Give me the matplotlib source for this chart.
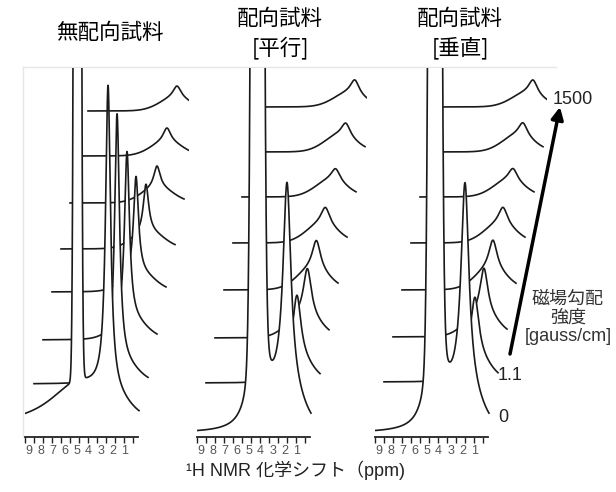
import numpy as np
import matplotlib.pyplot as plt

plt.rcParams['font.family'] = ['Liberation Sans', 'Noto Sans CJK JP']

titles = [['無配向試料'], ['配向試料', '[平行]'], ['配向試料', '[垂直]']]
ppm_labels = [9, 8, 7, 6, 5, 4, 3, 2, 1]
gradient_labels = ['0', '1.1', '1500']
axis_title = '¹H NMR 化学シフト（ppm)'
gradient_title = '磁場勾配\n強度\n[gauss/cm]'

# baseline of each trace (px above the axis line), gradient 0 -> 1500
base_nonori = [10, 53, 97, 145, 188, 234, 281, 326]
base_para = [4, 54, 99, 147, 194, 240, 285, 330]
base_perp = [4, 55, 100, 147, 194, 240, 285, 330]

# main resonance of each trace: position (ppm), height, half width (ppm)
peak_ppm_nonori = [2.38, 2.38, 2.30, 2.30, 2.22, 2.05, 1.97, 1.88]
peak_h_nonori = [305, 253, 171, 99, 49, 22, 14, 12]
peak_w_nonori = [0.25, 0.25, 0.25, 0.25, 0.27, 0.32, 0.38, 0.4]

peak_ppm_para = [1.80, 1.72, 1.60, 1.60, 1.60, 1.50, 1.40, 1.40]
peak_h_para = [208, 63, 48, 30, 18, 13, 14, 15]
peak_w_para = [0.4, 0.4, 0.4, 0.42, 0.45, 0.45, 0.45, 0.45]

peak_ppm_perp = [1.80, 1.72, 1.72, 1.72, 1.63, 1.55, 1.47, 1.38]
peak_h_perp = [208, 60, 47, 30, 18, 13, 14, 15]
peak_w_perp = [0.4, 0.4, 0.4, 0.42, 0.45, 0.45, 0.45, 0.45]

# broad background under the main resonance
hump_nonori = [13, 18, 18, 17, 16, 15, 14, 13]
hump_para = [35, 25, 22, 20, 18, 16, 16, 13]
hump_perp = [35, 25, 22, 20, 18, 16, 16, 13]
hump_ppm = [2.0, 1.9, 1.9]

# water line at gradient 0: centre, core width, wing height, wing width
water_nonori = [4.93, 0.165, 43, 2.9]
water_para = [4.26, 0.273, 300, 0.4]
water_perp = [4.30, 0.273, 300, 0.4]

panels = [
    dict(base=base_nonori, pc=peak_ppm_nonori, ph=peak_h_nonori, pw=peak_w_nonori,
         hump=hump_nonori, hc=hump_ppm[0], water=water_nonori, left=25, width=164),
    dict(base=base_para, pc=peak_ppm_para, ph=peak_h_para, pw=peak_w_para,
         hump=hump_para, hc=hump_ppm[1], water=water_para, left=197, width=170),
    dict(base=base_perp, pc=peak_ppm_perp, ph=peak_h_perp, pw=peak_w_perp,
         hump=hump_perp, hc=hump_ppm[2], water=water_perp, left=375, width=172),
]

W, H = 616, 492
px_per_ppm = 12
shift = 0.75          # horizontal step between traces (ppm)
top, axis_y = 68, 437


def lorentz(x, c, h, w):
    return h * w**2 / (w**2 + (x - c)**2)


def gauss(x, c, h, s):
    return h * np.exp(-(x - c)**2 / (2 * s**2))


fig = plt.figure(figsize=(W / 100, H / 100), dpi=100)

# faint frame
frame = fig.add_axes([0, 0, 1, 1])
frame.set_xlim(0, W)
frame.set_ylim(H, 0)
frame.axis('off')
frame.plot([23, 556], [67, 67], color='#e6e6e6', lw=1)
frame.plot([23, 23], [67, 436], color='#e6e6e6', lw=1)

x = np.linspace(9.3, -0.2, 2500)
for p in panels:
    ax = fig.add_axes([p['left'] / W, 1 - axis_y / H, p['width'] / W, (axis_y - top) / H])
    ax.set_xlim(9.3, 9.3 - p['width'] / px_per_ppm)
    ax.set_ylim(0, axis_y - top)
    for k in reversed(range(8)):
        y = p['base'][k] + lorentz(x, p['pc'][k], p['ph'][k], p['pw'][k]) \
            + gauss(x, p['hc'], p['hump'][k], 1.3)
        if k == 0:
            wc, ws, wh, ww = p['water']
            y = y + gauss(x, wc, 4000, ws) + lorentz(x, wc, wh, ww)
        xs = x - k * shift
        ax.fill_between(xs, y, 0, color='white', lw=0, zorder=10 + 2 * (7 - k))
        ax.plot(xs, y, color='#1a1a1a', lw=1.2, zorder=11 + 2 * (7 - k))
    for s in ['top', 'left', 'right']:
        ax.spines[s].set_visible(False)
    ax.spines['bottom'].set_bounds(9.3, -0.1)
    ax.spines['bottom'].set_linewidth(1.3)
    ax.spines['bottom'].set_color('#222222')
    ax.spines['bottom'].set_zorder(50)
    ax.set_yticks([])
    ax.set_xticks(ppm_labels)
    ax.set_xticks(np.arange(9.3, 0, -0.75), minor=True)
    ax.tick_params(axis='x', which='major', length=0, labelsize=9,
                   labelcolor='#555555', pad=6)
    ax.tick_params(axis='x', which='minor', direction='out', length=4, width=1,
                   color='#222222')
    ax.patch.set_alpha(0)

# overlay for the gradient arrow
over = fig.add_axes([0, 0, 1, 1])
over.set_xlim(0, W)
over.set_ylim(H, 0)
over.axis('off')
over.annotate('', xy=(560, 107), xytext=(510, 354),
              arrowprops=dict(arrowstyle='-|>', lw=2.5, color='black', mutation_scale=18,
                              shrinkA=0, shrinkB=0))

# titles
fig.text(110 / W, 1 - 33 / H, titles[0][0], ha='center', va='center', fontsize=15.5,
         family='Noto Sans CJK JP')
for cx, t in [(280, titles[1]), (460, titles[2])]:
    fig.text(cx / W, 1 - 19 / H, t[0], ha='center', va='center', fontsize=15.5,
             family='Noto Sans CJK JP')
    fig.text(cx / W, 1 - 48 / H, t[1], ha='center', va='center', fontsize=15.5,
             family='Noto Sans CJK JP')

# gradient labels
fig.text(498 / W, 1 - 418 / H, gradient_labels[0], ha='left', va='center', fontsize=13, color='#222222')
fig.text(498 / W, 1 - 376 / H, gradient_labels[1], ha='left', va='center', fontsize=13, color='#222222')
fig.text(553 / W, 1 - 100 / H, gradient_labels[2], ha='left', va='center', fontsize=13, color='#222222')
fig.text(568 / W, 1 - 318 / H, gradient_title, ha='center', va='center', fontsize=13,
         color='#333333', linespacing=1.15)

fig.text(296 / W, 1 - 470 / H, axis_title, ha='center', va='center', fontsize=13, color='#222222')

fig.savefig('out.png', dpi=100)
